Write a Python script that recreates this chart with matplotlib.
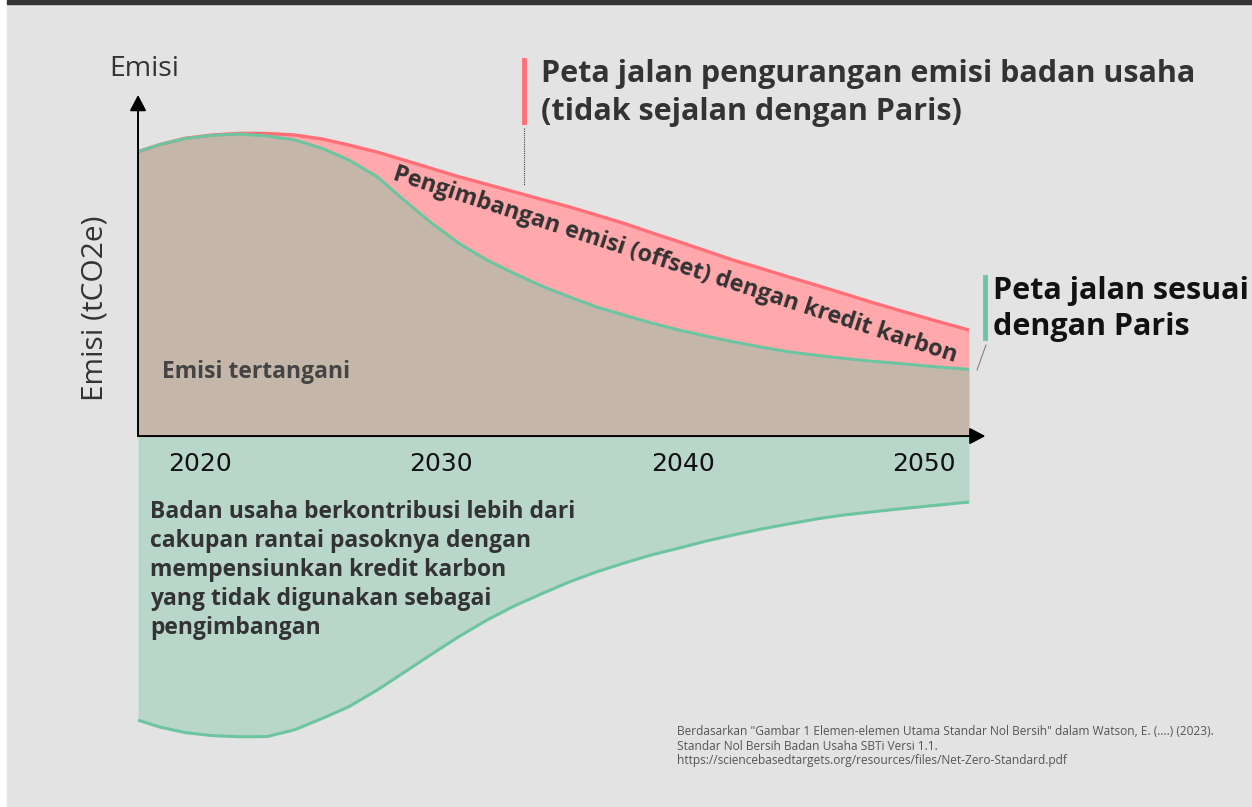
import matplotlib
matplotlib.use("Agg")
import matplotlib.pyplot as plt
from matplotlib.patches import Rectangle

plt.rcParams['font.family'] = ['Open Sans', 'DejaVu Sans']

# data (tahun, emisi dalam satuan relatif)
tahun = [2017.43, 2018.34, 2019.38, 2020.50, 2021.66, 2022.78, 2023.94, 2025.06,
         2026.17, 2027.34, 2028.45, 2029.61, 2030.73, 2031.89, 2033.01, 2034.13,
         2035.29, 2036.41, 2037.57, 2038.69, 2039.85, 2040.97, 2042.09, 2043.25,
         2044.37, 2045.53, 2046.65, 2047.77, 2048.93, 2050.38, 2051.87]
emisi_usaha = [93.21, 95.57, 97.61, 98.69, 99.25, 99.18, 98.69, 97.38, 95.41, 93.11,
               90.49, 87.70, 85.02, 82.52, 80.10, 77.64, 75.18, 72.52, 69.74, 66.72,
               63.70, 60.72, 57.70, 54.98, 52.23, 49.51, 46.79, 44.03, 41.31, 38.03,
               34.75]
emisi_paris = [93.21, 95.57, 97.54, 98.59, 99.02, 98.36, 97.05, 94.33, 90.49, 85.02,
               77.38, 69.74, 63.18, 57.70, 53.34, 49.28, 45.67, 42.39, 39.67, 37.11,
               34.75, 32.79, 30.92, 29.18, 27.64, 26.49, 25.48, 24.59, 23.84, 22.79,
               21.87]
kontribusi = [-93.11, -95.41, -97.21, -98.20, -98.59, -98.52, -96.23, -92.59, -88.72,
              -83.28, -77.51, -71.44, -65.74, -60.33, -55.74, -51.80, -47.87, -44.59,
              -41.64, -39.02, -36.72, -34.43, -32.46, -30.49, -28.85, -27.21, -25.90,
              -24.92, -23.93, -22.79, -21.64]
tick_tahun = [2020, 2030, 2040, 2050]

W, H = 1252, 807

def px(x, y):
    # posisi piksel (dari kiri atas) -> koordinat figure
    return x / W, 1 - y / H

fig = plt.figure(figsize=(W / 100, H / 100), dpi=100)
fig.patch.set_facecolor('white')
fig.patches.append(Rectangle(px(7, 807), 1, 1 - 4 / H, transform=fig.transFigure,
                             color='#e3e3e3', zorder=-10))
fig.patches.append(Rectangle(px(7, 4), 1, 4 / H, transform=fig.transFigure,
                             color='#333333', zorder=-10))

ax = fig.add_axes([0, 0, 1, 1])
ax.set_xlim(2011.71, 2063.60)
ax.set_ylim(-121.6, 142.95)
ax.axis('off')
ax.patch.set_alpha(0)

# area
ax.fill_between(tahun, 0, emisi_paris, color='#c4b7aa', lw=0)
ax.fill_between(tahun, emisi_paris, emisi_usaha, color='#ffa9ad', lw=0)
ax.fill_between(tahun, kontribusi, 0, color='#b8d6c9', lw=0)

# garis
ax.plot(tahun, emisi_usaha, color='#ff6f78', lw=2.4, solid_capstyle='butt')
ax.plot(tahun, emisi_paris, color='#6cc4a0', lw=2.2, solid_capstyle='butt')
ax.plot(tahun, kontribusi, color='#6cc4a0', lw=2.2, solid_capstyle='butt')

# sumbu dengan panah
ax.annotate('', xy=(2052.55, 0), xytext=(tahun[0], 0),
            arrowprops=dict(arrowstyle='-|>,head_length=0.95,head_width=0.5',
                            color='black', lw=1.4, shrinkA=0, shrinkB=0))
ax.annotate('', xy=(tahun[0], 111.8), xytext=(tahun[0], 0),
            arrowprops=dict(arrowstyle='-|>,head_length=0.95,head_width=0.5',
                            color='black', lw=1.4, shrinkA=0, shrinkB=0))

for t in tick_tahun:
    ax.text(t, -9, str(t), ha='center', va='center', fontsize=18, color='#111111',
            family='DejaVu Sans')

# teks
fig.text(*px(144, 69), 'Emisi', ha='center', va='center', fontsize=20.5, color='#333333')
fig.text(*px(95, 308), 'Emisi (tCO2e)', ha='center', va='center', fontsize=21.5,
         color='#333333', rotation=90)
fig.text(*px(162, 372), 'Emisi tertangani', ha='left', va='center', fontsize=16.5,
         fontweight='bold', color='#444444')
fig.text(*px(675, 265), 'Pengimbangan emisi (offset) dengan kredit karbon',
         ha='center', va='center', fontsize=16.8, fontweight='bold', color='#333333',
         rotation=-18, rotation_mode='anchor')

fig.text(*px(541, 93), 'Peta jalan pengurangan emisi badan usaha\n(tidak sejalan dengan Paris)',
         ha='left', va='center', fontsize=22, fontweight='bold', color='#333333',
         linespacing=1.33)
fig.add_artist(plt.Line2D([524 / W, 524 / W], [1 - 60 / H, 1 - 122 / H],
                          color='#ff6f78', lw=3.5))
fig.add_artist(plt.Line2D([524 / W, 524 / W], [1 - 128 / H, 1 - 185 / H],
                          color='#444444', lw=0.8, ls=(0, (1, 1))))

fig.text(*px(993, 309), 'Peta jalan sesuai\ndengan Paris',
         ha='left', va='center', fontsize=22, fontweight='bold', color='#111111',
         linespacing=1.28)
fig.add_artist(plt.Line2D([985 / W, 985 / W], [1 - 277 / H, 1 - 338 / H],
                          color='#6cc4a0', lw=3.5))
fig.add_artist(plt.Line2D([986 / W, 977 / W], [1 - 345 / H, 1 - 370 / H],
                          color='#777777', lw=0.7))

fig.text(*px(150, 570), 'Badan usaha berkontribusi lebih dari\ncakupan rantai pasoknya dengan\n'
         'mempensiunkan kredit karbon\nyang tidak digunakan sebagai\npengimbangan',
         ha='left', va='center', fontsize=16.5, fontweight='bold', color='#333333',
         linespacing=1.27)

fig.text(*px(677, 746), 'Berdasarkan "Gambar 1 Elemen-elemen Utama Standar Nol Bersih" dalam '
         'Watson, E. (....) (2023).\nStandar Nol Bersih Badan Usaha SBTi Versi 1.1.\n'
         'https://sciencebasedtargets.org/resources/files/Net-Zero-Standard.pdf',
         ha='left', va='center', fontsize=8.6, color='#555555', linespacing=1.12)

fig.savefig('out.png', dpi=100)
